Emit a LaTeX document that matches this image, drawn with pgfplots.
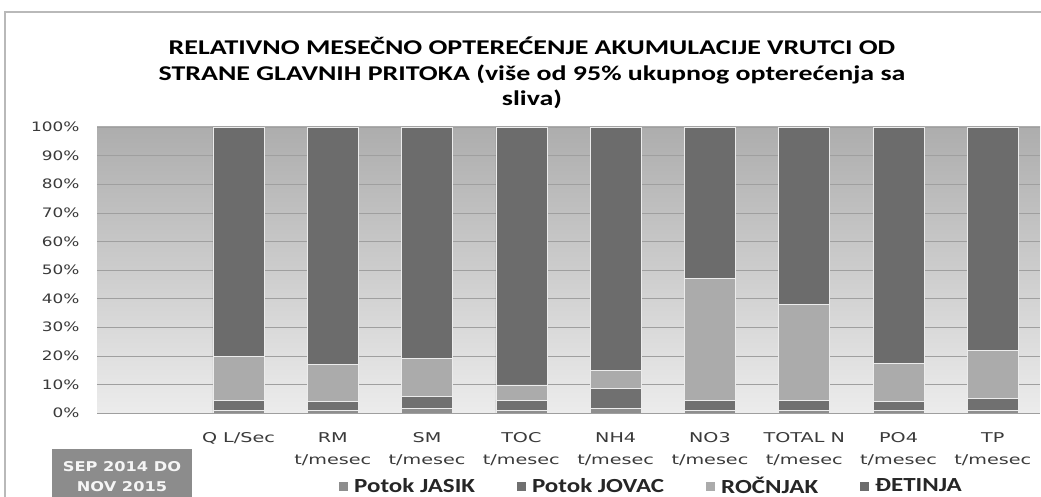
\documentclass[border=0pt]{standalone}
\usepackage{pgfplots}
\pgfplotsset{compat=1.18}
\usepackage{fontspec}
\setmainfont{Carlito}
\newfontfamily\titlefont[FakeStretch=1.33]{Carlito}
\newfontfamily\legfont[FakeStretch=1.25]{Carlito}
\newfontfamily\tickfont[FakeStretch=1.3]{DejaVu Sans}
\newfontfamily\xfont[FakeStretch=1.42]{DejaVu Sans}
\newfontfamily\boxfont[FakeStretch=1.2]{DejaVu Sans}
\definecolor{cJasik}{HTML}{8E8E8E}
\definecolor{cJovac}{HTML}{707070}
\definecolor{cRoc}{HTML}{ABABAB}
\definecolor{cDet}{HTML}{6C6C6C}
\definecolor{bgTop}{HTML}{ADADAD}
\definecolor{bgBot}{HTML}{ECECEC}
\definecolor{boxc}{HTML}{8C8C8C}
\definecolor{txt}{HTML}{3A3A3A}
\begin{document}
\begin{tikzpicture}[x=1pt,y=1pt]
\useasboundingbox (0,0) rectangle (1041,497);
\fill[white] (0,0) rectangle (1041,497);
\draw[gray!55, line width=1.5pt] (5,-20) -- (5,485) -- (1060,485);
\node[font=\titlefont\bfseries\fontsize{21}{25.5}\selectfont, align=center] at (532,424)
 {RELATIVNO MESEČNO OPTEREĆENJE AKUMULACIJE VRUTCI OD\\
  STRANE GLAVNIH PRITOKA (više od 95\% ukupnog opterećenja sa\\
  sliva)};
\begin{axis}[at={(97pt,84pt)}, anchor=south west, scale only axis,
  width=943pt, height=286pt,
  ybar stacked, bar width=51pt,
  xmin=-0.5, xmax=9.5, ymin=0, ymax=100,
  axis background/.style={top color=bgTop, bottom color=bgBot, draw=none},
  axis line style={draw=none},
  ymajorgrids, grid style={gray!75, line width=0.5pt},
  major tick length=0pt,
  ytick={0,10,...,100},
  yticklabels={0\%,10\%,20\%,30\%,40\%,50\%,60\%,70\%,80\%,90\%,100\%},
  yticklabel style={font=\tickfont\fontsize{13}{16}\selectfont, text=txt, xshift=-14pt},
  xtick={1,...,9},
  xticklabels={{Q L/Sec},{RM\\t/mesec},{SM\\t/mesec},{TOC\\t/mesec},{NH4\\t/mesec},{NO3\\t/mesec},{TOTAL N\\t/mesec},{PO4\\t/mesec},{TP\\t/mesec}},
  xticklabel style={font=\xfont\fontsize{13.5}{22}\selectfont, text=txt, align=center, yshift=-16pt},
  legend columns=4,
  legend style={at={(axis description cs:0.2534,-0.256)}, anchor=west, draw=none, fill=none,
    font=\legfont\bfseries\fontsize{20}{22}\selectfont, text=black!85,
    /tikz/every odd column/.append style={column sep=4pt},
    /tikz/every even column/.append style={column sep=40pt}},
  legend image code/.code={\fill[#1, draw=none] (0pt,-4.5pt) rectangle (9pt,4.5pt);},
  every axis plot/.append style={draw=white!85!gray, line width=0.7pt},
]
\addplot[fill=cJasik] coordinates {(1,1) (2,0.8) (3,1.5) (4,1) (5,1.5) (6,1) (7,1) (8,1) (9,1)};
\addplot[fill=cJovac] coordinates {(1,3.3) (2,3.1) (3,4.2) (4,3.5) (5,7.1) (6,3.3) (7,3.3) (8,3) (9,4.1)};
\addplot[fill=cRoc] coordinates {(1,15.4) (2,13.2) (3,13.4) (4,5.3) (5,6.2) (6,42.9) (7,33.8) (8,13.4) (9,16.7)};
\addplot[fill=cDet] coordinates {(1,80.3) (2,82.9) (3,80.9) (4,90.2) (5,85.2) (6,52.8) (7,61.9) (8,82.6) (9,78.2)};
\legend{Potok JASIK, Potok JOVAC, ROČNJAK, ĐETINJA}
\end{axis}
\fill[boxc] (52,-5) rectangle (192,48);
\node[font=\boxfont\bfseries\fontsize{13.5}{20}\selectfont, text=white!92!gray, align=center] at (122,20) {SEP 2014 DO\\NOV 2015};
\end{tikzpicture}
\end{document}
